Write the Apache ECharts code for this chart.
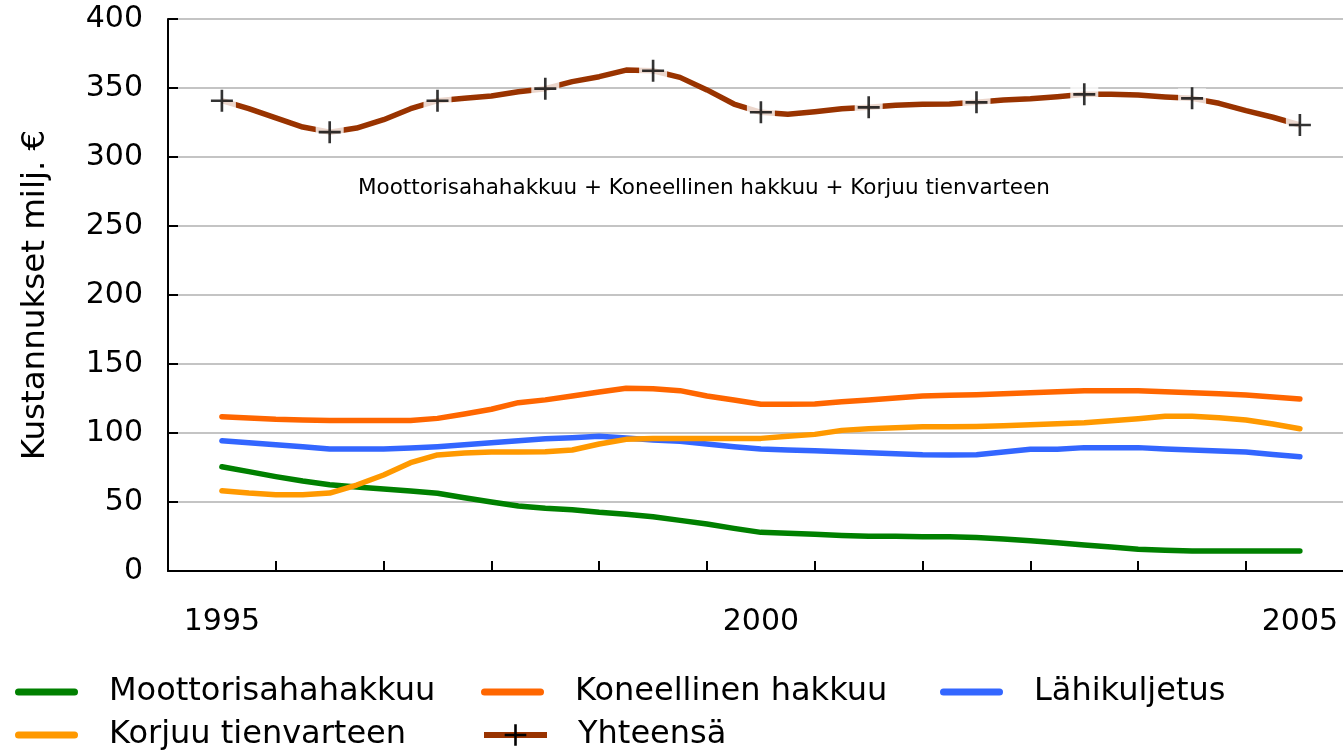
<!DOCTYPE html>
<html><head><meta charset="utf-8">
<script src="https://cdn.jsdelivr.net/npm/echarts@6/dist/echarts.min.js"></script>
<style>html,body{margin:0;padding:0;background:#fff}#c{width:1343px;height:754px}</style>
</head><body><div id="c"></div>
<script>
// Quarterly periods 1995Q1 .. 2005Q1
const periods = [];
for (let y = 1995; y <= 2005; y++) for (let q = 1; q <= 4; q++) { if (y === 2005 && q > 1) break; periods.push(y + 'Q' + q); }
const periodX = periods.map(p => +p.slice(0, 4) + (+p.slice(5) - 1) / 4);

const yearTicks = [1994.5, 1995.5, 1996.5, 1997.5, 1998.5, 1999.5, 2000.5, 2001.5, 2002.5, 2003.5, 2004.5];
const yearLabels = [1995, 2000, 2005];

const moottorisaha = [75.6,72,68.4,65.2,62.5,60.9,59.4,58,56.3,53.1,50,47.1,45.5,44.4,42.5,41.1,39.3,36.7,34.1,30.9,28,27.3,26.6,25.8,25.1,25.1,24.9,24.9,24.2,23.2,22,20.5,18.8,17.4,15.7,15,14.5,14.5,14.5,14.5,14.5];
const koneellinen = [111.8,110.9,109.9,109.4,109,109,109,109,110.6,113.8,117.2,122,124,126.8,129.7,132.4,132.1,130.7,126.8,123.9,120.8,120.8,121,122.7,123.9,125.4,126.8,127.3,127.8,128.5,129.2,129.9,130.7,130.7,130.7,129.9,129.2,128.5,127.5,126.1,124.6];
const lahikuljetus = [94.4,93,91.5,90.1,88.4,88.4,88.4,89.1,90.1,91.5,93,94.4,95.8,96.6,97.6,96.4,94.9,94,92,90.1,88.4,87.7,87.2,86.5,85.7,85,84.3,84.1,84.3,86.2,88.2,88.2,89.4,89.4,89.4,88.4,87.7,87,86.2,84.5,82.8];
const korjuu = [58.2,56.5,55.3,55.3,56.5,62.3,69.6,78.5,84.1,85.5,86.2,86.2,86.4,87.7,92,95.4,96.1,96.1,96.1,96.1,96.1,97.6,99,101.9,103.1,103.8,104.6,104.6,104.8,105.3,106,106.7,107.5,108.9,110.4,112.1,112.1,111.1,109.4,106.5,103.1];
const yhteensa = [340.8,335,328.3,321.7,318,321,327,335,340.8,342.5,344.2,347.3,349.5,354.6,358.2,363,362.5,357.7,348.6,338.4,332.4,331,332.8,335,336,337.5,338.2,338.4,339.6,341.3,342.2,343.7,345.4,345.4,344.9,343.5,342.5,338.9,333.6,328.8,323.2];

const annotation = 'Moottorisahahakkuu + Koneellinen hakkuu + Korjuu tienvarteen';
const FONT = 'DejaVu Sans';
const PLUS = 'path://M8.8,0H11.2V8.8H20V11.2H11.2V20H8.8V11.2H0V8.8H8.8Z';
const CAPSULE = 'path://M3.5,0H59.5A3.5,3.5 0 0 1 59.5,7H3.5A3.5,3.5 0 0 1 3.5,0Z';
const LW = 5.5;

const xy = arr => arr.map((v, i) => [periodX[i], v]);
const annual = arr => arr.map((v, i) => [periodX[i], v]).filter((d, i) => i % 4 === 0);

function lineSeries(name, arr, color) {
  return {
    type: 'line', name, data: xy(arr), symbol: 'none', silent: true,
    itemStyle: { color },
    lineStyle: { color, width: LW, cap: 'round', join: 'round' },
    z: 2
  };
}

const chart = echarts.init(document.getElementById('c'), null, { renderer: 'canvas' });
const legendBase = {
  orient: 'horizontal', itemWidth: 63, itemHeight: 7, itemGap: 0, icon: CAPSULE, selectedMode: false,
  textStyle: { fontFamily: FONT, fontSize: 32, color: '#000', lineHeight: 36, padding: [0, 0, 0, 26] }
};
const leg = (left, top, name, extra) => Object.assign({}, legendBase, { left, top, data: [name] }, extra || {});
chart.setOption({
  animation: false,
  backgroundColor: '#fff',
  grid: { left: 168, right: 0, top: 19, bottom: 183 },
  xAxis: {
    type: 'value', min: 1994.5, max: 2005.4,
    axisLine: { show: true, lineStyle: { color: '#000', width: 2 } },
    axisTick: { show: true, inside: true, length: 10, customValues: yearTicks, lineStyle: { color: '#000', width: 2 } },
    axisLabel: { customValues: yearLabels, formatter: v => String(v), margin: 36, color: '#000', fontFamily: FONT, fontSize: 30 },
    splitLine: { show: false }
  },
  yAxis: {
    type: 'value', min: 0, max: 400, interval: 50,
    name: 'Kustannukset milj. €', nameLocation: 'middle', nameGap: 116,
    nameTextStyle: { fontFamily: FONT, fontSize: 32.5, color: '#000' },
    axisLine: { show: true, lineStyle: { color: '#000', width: 2 } },
    axisTick: { show: true, inside: true, length: 10, lineStyle: { color: '#000', width: 2 } },
    axisLabel: { margin: 25, color: '#000', fontFamily: FONT, fontSize: 30 },
    splitLine: { show: true, lineStyle: { color: '#b0b0b0', width: 1.5 } }
  },
  legend: [
    leg(10, 669, 'Moottorisahahakkuu'),
    leg(476, 669, 'Koneellinen hakkuu'),
    leg(935, 669, 'Lähikuljetus'),
    leg(10, 712, 'Korjuu tienvarteen'),
    leg(476, 712, 'Yhteensä', { itemHeight: 27, icon: null, lineStyle: { width: 6, cap: 'butt' } })
  ],
  graphic: [{
    type: 'text', left: 358, top: 177, silent: true,
    style: { text: annotation, font: '21.5px "DejaVu Sans"', fill: '#000' }
  }],
  series: [
    lineSeries('Moottorisahahakkuu', moottorisaha, '#008000'),
    lineSeries('Koneellinen hakkuu', koneellinen, '#ff6600'),
    lineSeries('Lähikuljetus', lahikuljetus, '#3366ff'),
    lineSeries('Korjuu tienvarteen', korjuu, '#ff9900'),
    {
      type: 'line', name: 'Yhteensä', silent: true, z: 2,
      data: yhteensa.map((v, i) => ({ value: [periodX[i], v], symbol: 'none' })),
      symbol: PLUS, symbolSize: 22,
      itemStyle: { color: '#000' },
      lineStyle: { color: '#993300', width: LW, cap: 'butt', join: 'round' }
    },
    {
      type: 'scatter', name: 'gap', silent: true, z: 3,
      data: annual(yhteensa), symbol: 'rect', symbolSize: [28, 20],
      itemStyle: { color: '#fff' }
    },
    {
      type: 'scatter', name: 'marker', silent: true, z: 4,
      data: annual(yhteensa), symbol: PLUS, symbolSize: 22,
      itemStyle: { color: '#000' }
    }
  ]
});
</script>
</body></html>
